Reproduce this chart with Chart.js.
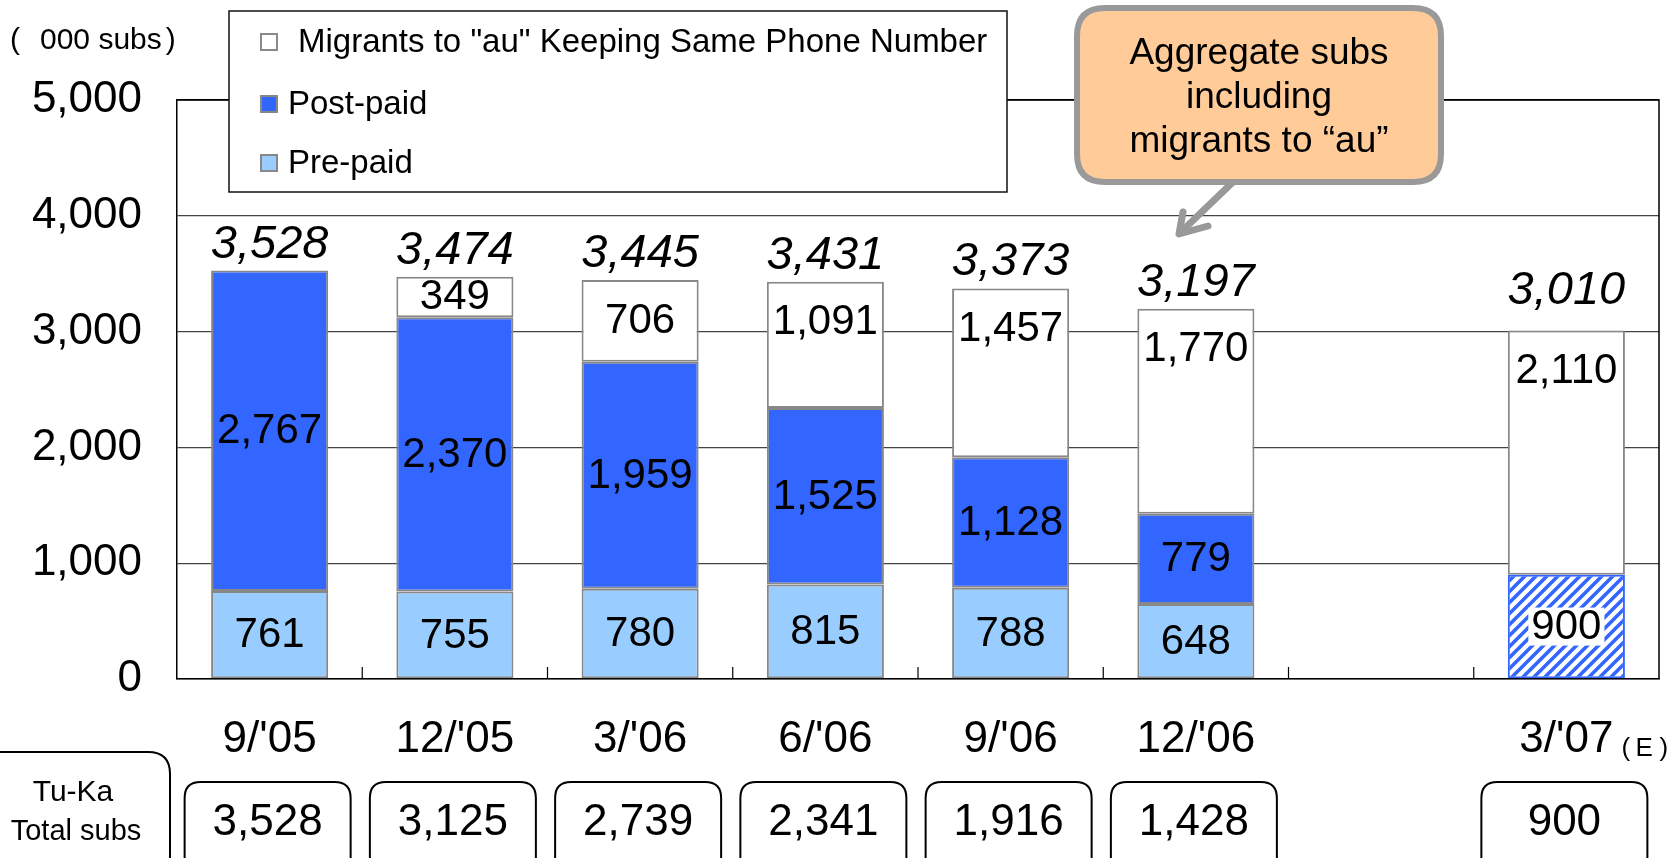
<!DOCTYPE html>
<html><head><meta charset="utf-8">
<script src="https://cdn.jsdelivr.net/npm/chart.js@4/dist/chart.umd.min.js"></script>
<style>html,body{margin:0;padding:0;background:#fff;overflow:hidden}canvas{display:block}</style>
</head><body>
<canvas id="c" width="1669" height="858"></canvas>
<script>
// ---- data ----
const categories = ["9/'05", "12/'05", "3/'06", "6/'06", "9/'06", "12/'06", "", "3/'07"];
const prePaid    = [761, 755, 780, 815, 788, 648, null, 900];
const postPaid   = [2767, 2370, 1959, 1525, 1128, 779, null, null];
const migrants   = [null, 349, 706, 1091, 1457, 1770, null, 2110];
const aggregateTotals = [3528, 3474, 3445, 3431, 3373, 3197, null, 3010];
const tukaTotals = [3528, 3125, 2739, 2341, 1916, 1428, null, 900];
const estimated  = [false, false, false, false, false, false, false, true];
const yTicks = [0, 1000, 2000, 3000, 4000, 5000];
const seriesLabels = ['Pre-paid', 'Post-paid', 'Migrants to "au" Keeping Same Phone Number'];
const unitLabel = '000 subs';
const calloutLines = ['Aggregate subs', 'including', 'migrants to \u201Cau\u201D'];
const tukaLabel = ['Tu-Ka', 'Total subs'];

const FONT = "'Liberation Sans', Arial, sans-serif";
const C_POST = '#3366FF', C_PRE = '#99CCFF', C_MIG = '#FFFFFF', C_EDGE = '#888888';
const fmt = v => v.toLocaleString('en-US');

// hatch pattern for estimated pre-paid
function makeHatch() {
  const s = 11, cv = document.createElement('canvas');
  cv.width = s; cv.height = s;
  const g = cv.getContext('2d');
  g.fillStyle = '#fff'; g.fillRect(0, 0, s, s);
  g.strokeStyle = C_POST; g.lineWidth = 3.6;
  g.beginPath();
  g.moveTo(-2, s + 2); g.lineTo(s + 2, -2);
  g.moveTo(-4, 4); g.lineTo(4, -4);
  g.moveTo(s - 4, s + 4); g.lineTo(s + 4, s - 4);
  g.stroke();
  return g.createPattern(cv, 'repeat');
}
const hatch = makeHatch();

function rr(ctx, x, y, w, h, r) {
  ctx.beginPath();
  ctx.moveTo(x + r, y);
  ctx.lineTo(x + w - r, y); ctx.quadraticCurveTo(x + w, y, x + w, y + r);
  ctx.lineTo(x + w, y + h - r); ctx.quadraticCurveTo(x + w, y + h, x + w - r, y + h);
  ctx.lineTo(x + r, y + h); ctx.quadraticCurveTo(x, y + h, x, y + h - r);
  ctx.lineTo(x, y + r); ctx.quadraticCurveTo(x, y, x + r, y);
  ctx.closePath();
}

const decor = {
  id: 'decor',
  afterDatasetsDraw(chart) {
    const ctx = chart.ctx, a = chart.chartArea, xs = chart.scales.x;
    ctx.save();
    // frame
    ctx.strokeStyle = '#000'; ctx.lineWidth = 1.5;
    ctx.beginPath();
    ctx.moveTo(a.left, a.top); ctx.lineTo(a.right, a.top); ctx.lineTo(a.right, a.bottom);
    ctx.stroke();
    // category boundary ticks (pointing up)
    ctx.lineWidth = 1.2;
    for (let i = 0; i < categories.length - 1; i++) {
      const bx = (xs.getPixelForValue(i) + xs.getPixelForValue(i + 1)) / 2;
      ctx.beginPath(); ctx.moveTo(bx, a.bottom); ctx.lineTo(bx, a.bottom - 12); ctx.stroke();
    }
    // segment labels
    ctx.textAlign = 'center'; ctx.textBaseline = 'middle'; ctx.fillStyle = '#000';
    ctx.font = `42px ${FONT}`;
    const sets = [prePaid, postPaid, migrants];
    sets.forEach((arr, di) => {
      const meta = chart.getDatasetMeta(di);
      arr.forEach((v, j) => {
        if (v == null || !v) return;
        const el = meta.data[j];
        const top = Math.min(el.y, el.base), bot = Math.max(el.y, el.base);
        let cy = (top + bot) / 2;
        if (di === 2) cy = Math.min(cy, top + 40);
        const txt = fmt(v);
        if (di === 0 && estimated[j]) {
          const w = ctx.measureText(txt).width;
          ctx.fillStyle = '#fff';
          ctx.fillRect(el.x - w / 2 - 3, cy - 19, w + 6, 38);
          ctx.fillStyle = '#000';
        }
        ctx.fillText(txt, el.x, cy + 1);
      });
    });
    // aggregate totals (italic)
    ctx.font = `italic 47px ${FONT}`;
    aggregateTotals.forEach((v, j) => {
      if (v == null) return;
      const ty = chart.scales.y.getPixelForValue(v);
      ctx.fillText(fmt(v), xs.getPixelForValue(j), ty - (estimated[j] ? 40 : 26));
    });
    // (E) mark
    estimated.forEach((e, j) => {
      if (!e) return;
      ctx.font = `26px ${FONT}`;
      ctx.textAlign = 'left';
      const x0 = xs.getPixelForValue(j) + 55;
      ctx.fillText('(', x0, 749); ctx.fillText('E', x0 + 14, 749); ctx.fillText(')', x0 + 38, 749);
      ctx.textAlign = 'center';
    });
    // bottom Tu-Ka boxes
    ctx.strokeStyle = '#000'; ctx.lineWidth = 2;
    ctx.font = `44px ${FONT}`;
    tukaTotals.forEach((v, j) => {
      if (v == null) return;
      const cx = xs.getPixelForValue(j) - 2;
      rr(ctx, cx - 83, 782, 166, 95, 16); ctx.stroke();
      ctx.fillText(fmt(v), cx, 823);
    });
    rr(ctx, -20, 752, 190, 125, 22); ctx.stroke();
    ctx.font = `30px ${FONT}`;
    ctx.fillText(tukaLabel[0], 73, 793);
    ctx.font = `29px ${FONT}`;
    ctx.fillText(tukaLabel[1], 76, 832);
    // unit label
    ctx.font = `30px ${FONT}`; ctx.textAlign = 'left';
    ctx.fillText('(', 10, 41);
    ctx.fillText(unitLabel, 40, 41);
    ctx.fillText(')', 40 + ctx.measureText(unitLabel).width + 4, 41);
    // legend box
    ctx.fillStyle = '#fff'; ctx.fillRect(229, 11, 778, 181);
    ctx.strokeStyle = '#111'; ctx.lineWidth = 1.5; ctx.strokeRect(229, 11, 778, 181);
    const legItems = [
      { label: seriesLabels[2], color: C_MIG, y: 42, tx: 298 },
      { label: seriesLabels[1], color: C_POST, y: 104, tx: 288 },
      { label: seriesLabels[0], color: C_PRE, y: 163, tx: 288 }
    ];
    ctx.font = `33px ${FONT}`; ctx.textBaseline = 'middle';
    legItems.forEach(it => {
      ctx.fillStyle = it.color; ctx.fillRect(261, it.y - 8, 16, 16);
      ctx.strokeStyle = C_EDGE; ctx.lineWidth = 2; ctx.strokeRect(261, it.y - 8, 16, 16);
      ctx.fillStyle = '#000'; ctx.fillText(it.label, it.tx, it.y + 1);
    });
    // callout
    ctx.strokeStyle = '#999'; ctx.lineWidth = 7; ctx.lineCap = 'round'; ctx.lineJoin = 'round';
    ctx.beginPath(); ctx.moveTo(1233, 182); ctx.lineTo(1183, 230); ctx.stroke();
    ctx.beginPath(); ctx.moveTo(1183, 212); ctx.lineTo(1179, 234); ctx.lineTo(1208, 226); ctx.stroke();
    rr(ctx, 1077, 8, 364, 174, 28);
    ctx.fillStyle = '#FFCC99'; ctx.fill();
    ctx.lineWidth = 6; ctx.stroke();
    ctx.fillStyle = '#000'; ctx.textAlign = 'center'; ctx.font = `37px ${FONT}`;
    calloutLines.forEach((t, i) => ctx.fillText(t, 1259, 54 + i * 44));
    ctx.restore();
  }
};

const bgPre = prePaid.map((v, j) => estimated[j] ? hatch : C_PRE);
const bdPre = prePaid.map((v, j) => estimated[j] ? C_POST : C_EDGE);

new Chart(document.getElementById('c'), {
  type: 'bar',
  data: {
    labels: categories,
    datasets: [
      { label: seriesLabels[0], data: prePaid, backgroundColor: bgPre, borderColor: bdPre },
      { label: seriesLabels[1], data: postPaid, backgroundColor: C_POST, borderColor: C_EDGE },
      { label: seriesLabels[2], data: migrants, backgroundColor: C_MIG, borderColor: C_EDGE }
    ]
  },
  options: {
    responsive: false, animation: false,
    datasets: { bar: { borderWidth: 2, borderSkipped: false, categoryPercentage: 1, barPercentage: 0.632 } },
    layout: { padding: { top: 100, right: 10, left: 0, bottom: 0 } },
    plugins: { legend: { display: false }, tooltip: { enabled: false } },
    scales: {
      x: {
        stacked: true,
        grid: { display: false },
        border: { display: true, color: '#000', width: 1.5 },
        ticks: { color: '#000', font: { family: FONT, size: 44 }, padding: 26, maxRotation: 0, autoSkip: false },
        afterFit(s) { s.height = 179; }
      },
      y: {
        stacked: true, min: 0, max: 5000,
        afterBuildTicks(s) { s.ticks = yTicks.map(v => ({ value: v })); },
        ticks: { color: '#000', font: { family: FONT, size: 44 }, padding: 35, callback: v => fmt(v) },
        grid: { color: c => (c.tick && c.tick.value === 5000) ? '#000' : '#444', lineWidth: 1.3, drawTicks: false },
        border: { color: '#000', width: 1.5 },
        afterFit(s) { s.width = 177; }
      }
    }
  },
  plugins: [decor]
});
</script>
</body></html>
